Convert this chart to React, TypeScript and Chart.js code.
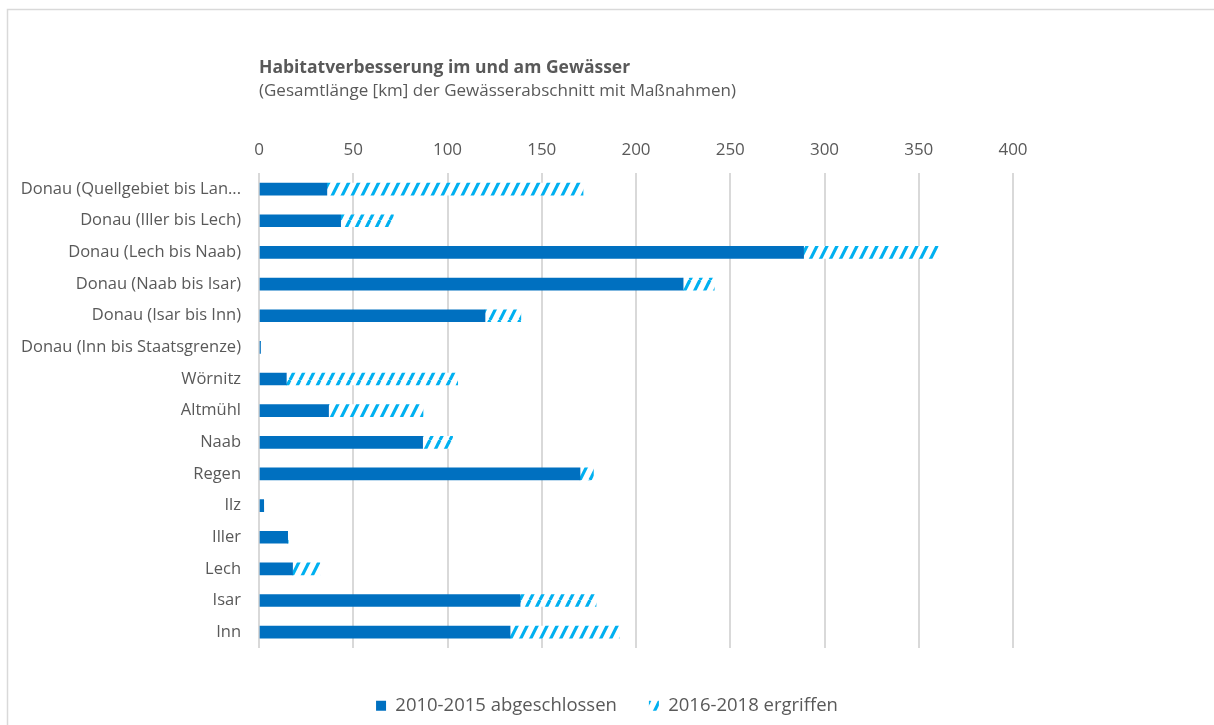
import React, { useEffect, useRef } from "react";
import { Chart, registerables } from "chart.js";

Chart.register(...registerables);

const categories = [
  "Donau (Quellgebiet bis Lan...",
  "Donau (Iller bis Lech)",
  "Donau (Lech bis Naab)",
  "Donau (Naab bis Isar)",
  "Donau (Isar bis Inn)",
  "Donau (Inn bis Staatsgrenze)",
  "Wörnitz",
  "Altmühl",
  "Naab",
  "Regen",
  "Ilz",
  "Iller",
  "Lech",
  "Isar",
  "Inn",
];

const completed2010to2015 = [36.0, 43.3, 288.9, 225.0, 119.9, 0.8, 14.5, 36.9, 86.8, 170.3, 2.5, 15.2, 17.8, 138.5, 133.2];
const started2016to2018 = [135.9, 28.0, 71.5, 16.5, 19.0, 0, 90.9, 50.1, 15.9, 7.1, 0, 0.3, 14.5, 40.3, 57.9];

const seriesLabels = ["2010-2015 abgeschlossen", "2016-2018 ergriffen"];
const axisMin = 0;
const axisMax = 400;
const axisStep = 50;

const titleText = "Habitatverbesserung im und am Gewässer";
const subtitleText = "(Gesamtlänge [km] der Gewässerabschnitt mit Maßnahmen)";

const FONT = "'Open Sans', 'DejaVu Sans', sans-serif";
const TEXT = "#595959";
const SOLID = "#0070C0";
const HATCH = "#00B0F0";

function makeHatch(color: string): CanvasPattern | string {
  const c = document.createElement("canvas");
  c.width = 10;
  c.height = 20;
  const ctx = c.getContext("2d");
  if (!ctx) return color;
  ctx.fillStyle = "#ffffff";
  ctx.fillRect(0, 0, 10, 20);
  ctx.strokeStyle = color;
  ctx.lineWidth = 3.2;
  for (const dx of [-10, 0, 10]) {
    ctx.beginPath();
    ctx.moveTo(dx, 20);
    ctx.lineTo(dx + 10, 0);
    ctx.stroke();
  }
  return ctx.createPattern(c, "repeat") || color;
}

const framePlugin = {
  id: "frame",
  beforeDraw(chart: any) {
    const ctx = chart.ctx;
    ctx.save();
    ctx.fillStyle = "#ffffff";
    ctx.fillRect(0, 0, chart.width, chart.height);
    ctx.strokeStyle = "#D9D9D9";
    ctx.lineWidth = 1.5;
    ctx.strokeRect(7.5, 9.5, chart.width + 20, chart.height + 20);
    ctx.restore();
  },
};

export default function App() {
  const ref = useRef<HTMLCanvasElement>(null);

  useEffect(() => {
    document.body.style.margin = "0";
    const canvas = ref.current;
    if (!canvas) return;
    const hatch = makeHatch(HATCH);

    const chart = new Chart(canvas, {
      type: "bar",
      data: {
        labels: categories,
        datasets: [
          {
            label: seriesLabels[0],
            data: completed2010to2015,
            backgroundColor: SOLID,
            borderWidth: 0,
            barThickness: 12,
          },
          {
            label: seriesLabels[1],
            data: started2016to2018,
            backgroundColor: hatch as any,
            borderWidth: 0,
            barThickness: 12,
          },
        ],
      },
      options: {
        indexAxis: "y",
        animation: false,
        responsive: false,
        layout: { padding: { left: 0, right: 0, top: 0, bottom: 0 } },
        scales: {
          x: {
            position: "top",
            stacked: true,
            min: axisMin,
            max: axisMax,
            ticks: {
              stepSize: axisStep,
              color: TEXT,
              padding: 13,
              font: { family: FONT, size: 17 },
            },
            grid: { color: "#D9D9D9", lineWidth: 2, drawTicks: false },
            border: { display: false },
          },
          y: {
            stacked: true,
            grid: { display: false, drawTicks: false },
            border: { display: false },
            ticks: { color: TEXT, padding: 18, font: { family: FONT, size: 16.5 } },
            afterFit: (s: any) => {
              s.width = 259;
            },
          },
          yRight: {
            type: "category",
            position: "right",
            display: true,
            grid: { display: false, drawTicks: false },
            border: { display: false },
            ticks: { display: false },
            afterFit: (s: any) => {
              s.width = 201;
            },
          },
        } as any,
        plugins: {
          title: {
            display: true,
            text: titleText,
            align: "start",
            fullSize: false,
            color: TEXT,
            font: { family: FONT, size: 17.5, weight: "bold", lineHeight: 1.2 },
            padding: { top: 57.5, bottom: 0 },
          },
          subtitle: {
            display: true,
            text: subtitleText,
            align: "start",
            fullSize: false,
            color: TEXT,
            font: { family: FONT, size: 17, lineHeight: 1.2 },
            padding: { top: 2, bottom: 26 },
          },
          legend: {
            position: "bottom",
            title: { display: true, text: "", padding: 0, font: { size: 13.75, lineHeight: 1.2 } },
            labels: {
              boxWidth: 10,
              boxHeight: 10,
              padding: 32,
              color: TEXT,
              font: { family: FONT, size: 18.5 },
            },
          },
          tooltip: { enabled: false },
        },
      },
      plugins: [framePlugin],
    });

    return () => chart.destroy();
  }, []);

  return (
    <canvas
      ref={ref}
      width={1214}
      height={725}
      style={{ display: "block", width: 1214, height: 725 }}
    />
  );
}
